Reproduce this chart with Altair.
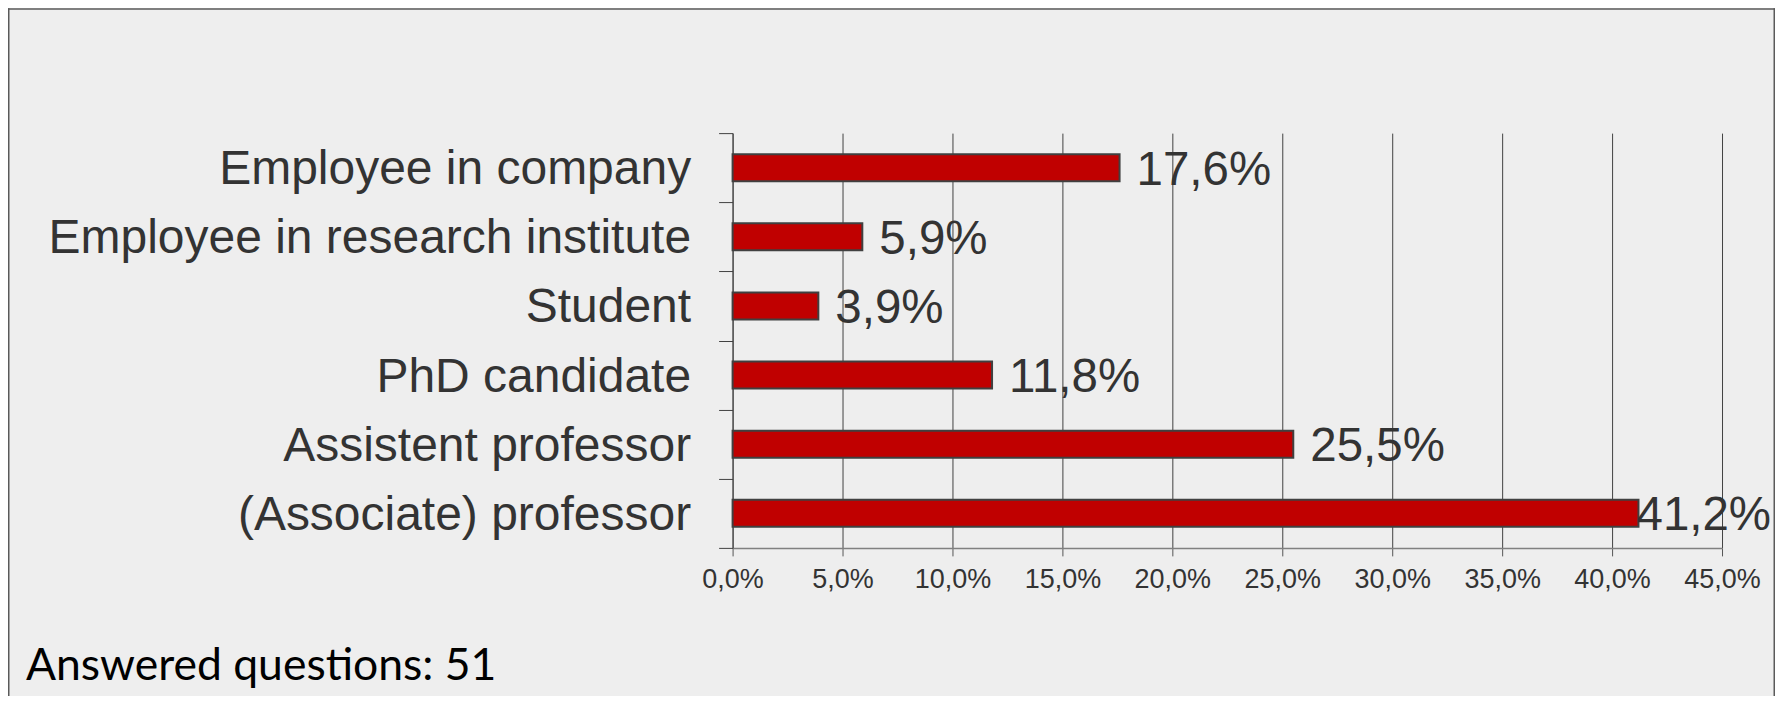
import altair as alt
import pandas as pd

categories = ["Employee in company", "Employee in research institute", "Student",
              "PhD candidate", "Assistent professor", "(Associate) professor"]
values = [17.6, 5.9, 3.9, 11.8, 25.5, 41.2]
tick_values = [0, 5, 10, 15, 20, 25, 30, 35, 40, 45]
note_text = ["Answered questions: 51"]

df = pd.DataFrame({"category": categories, "value": values})

LABEL_FONT = "Liberation Sans"
TXT = "#333333"

base = alt.Chart(df)

y_enc = alt.Y(
    "category:N", sort=categories,
    scale=alt.Scale(paddingInner=0, paddingOuter=0),
    axis=alt.Axis(title="", tickBand="extent", tickSize=14, tickColor="#404040",
                  domainColor="#404040", domainWidth=1, grid=False,
                  labelFont=LABEL_FONT, labelFontSize=48, labelColor=TXT,
                  labelPadding=28, labelLimit=900, labelOffset=2),
)
x_enc = alt.X(
    "value:Q",
    scale=alt.Scale(domain=[0, 45], nice=False),
    axis=alt.Axis(title="", values=tick_values, grid=True, gridColor="#404040", gridWidth=1,
                  tickSize=8, tickColor="#555555", domainColor="#808080", domainWidth=1.5,
                  labelExpr="replace(format(datum.value, '.1f'), '.', ',') + '%'",
                  labelFont=LABEL_FONT, labelFontSize=27, labelColor=TXT,
                  labelPadding=11, labelFlush=False, labelOverlap=False),
)

bars = base.mark_bar(size=27, color="#C00000", stroke="#404040", strokeWidth=2).encode(
    x=x_enc, y=y_enc
)

label_expr = "replace(format(datum.value, '.1f'), '.', ',') + '%'"
labels = base.transform_filter("datum.value < 40").transform_calculate(label=label_expr).mark_text(
    align="left", baseline="middle", dx=17, dy=3, font=LABEL_FONT, fontSize=47.5, color=TXT
).encode(x="value:Q", y=alt.Y("category:N", sort=categories), text="label:N")

labels_big = base.transform_filter("datum.value >= 40").transform_calculate(label=label_expr).mark_text(
    align="left", baseline="middle", dx=-2, dy=3, font=LABEL_FONT, fontSize=47.5, color=TXT
).encode(x="value:Q", y=alt.Y("category:N", sort=categories), text="label:N")

note = alt.Chart(pd.DataFrame({"t": note_text})).mark_text(
    align="left", baseline="alphabetic", font="Lato", fontSize=44.5, color="#000000"
).encode(x=alt.value(-707), y=alt.value(547), text="t:N")

one = pd.DataFrame({"a": [0]})
border_left = alt.Chart(one).mark_rule(color="#5a5a5a", strokeWidth=1.5).encode(
    x=alt.value(-724.25), y=alt.value(-125), y2=alt.value(600))
border_top = alt.Chart(one).mark_rule(color="#5a5a5a", strokeWidth=1.5).encode(
    x=alt.value(-725), x2=alt.value(1100), y=alt.value(-124.25))
border_right = alt.Chart(one).mark_rule(color="#5a5a5a", strokeWidth=1.5).encode(
    x=alt.value(1042.25), y=alt.value(-125), y2=alt.value(600))

chart = alt.layer(bars, labels, labels_big, note, border_left, border_top, border_right).properties(
    width=990, height=415,
    autosize=alt.AutoSizeParams(type="none"),
    padding={"left": 725, "top": 125, "right": 53, "bottom": 148},
    background="#EEEEEE",
).configure_view(strokeWidth=0)

chart.save("out.html", embed_options={"renderer": "svg", "actions": False})
